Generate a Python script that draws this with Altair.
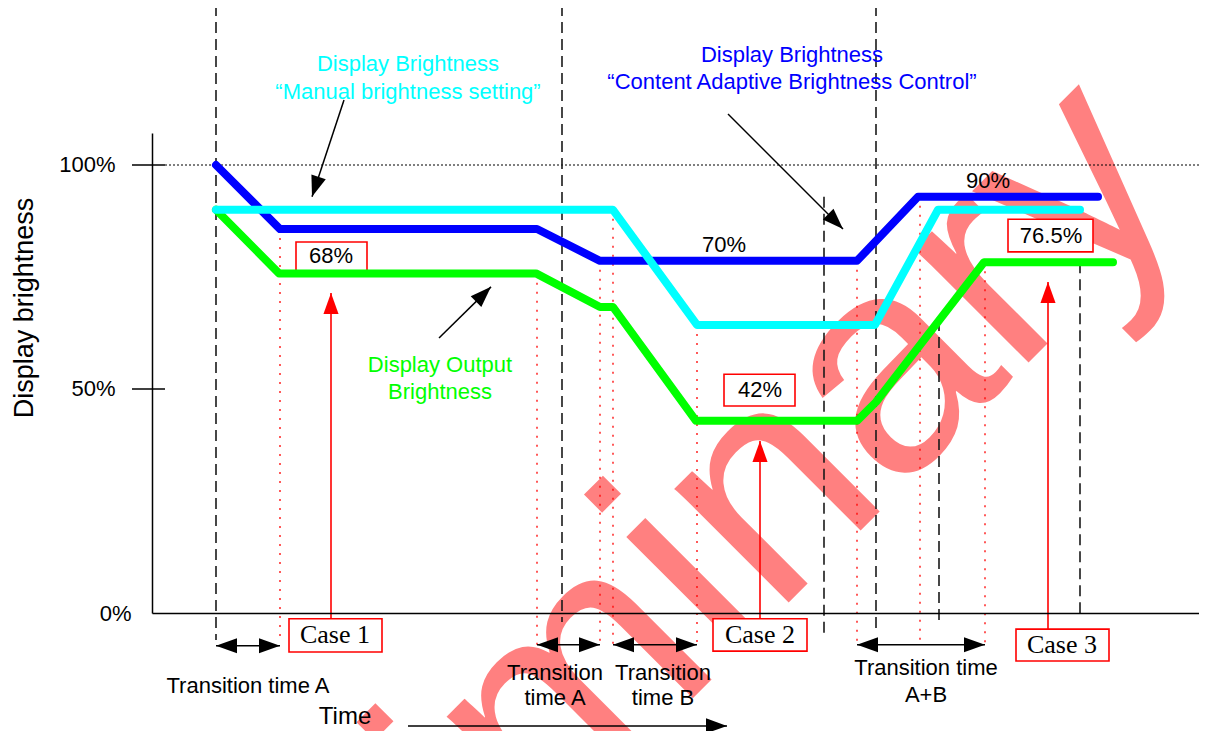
import math
import altair as alt
import pandas as pd

# ---------------- scale set-up (time units, percent) ----------------
X_MAX = 1047          # time axis extent (arbitrary time units)
Y_MAX = 107.14        # top of brightness axis (%)
W, H = 1047, 480
PX_T = W / X_MAX
PX_P = H / Y_MAX
SANS = "Liberation Sans"
SERIF = "Liberation Serif"

# ---------------- series ----------------
blue_t = [64, 128, 385, 448, 705, 766, 946]
blue_v = [100, 85.7, 85.7, 78.6, 78.6, 92.9, 92.9]
cyan_t = [64, 461, 545, 723, 786, 928]
cyan_v = [90, 90, 64.3, 64.3, 90, 90]
green_t = [64, 127, 384, 448, 461, 544, 705, 724, 832, 961]
green_v = [90, 75.8, 75.8, 68.3, 68.3, 42.9, 42.9, 47.1, 78.3, 78.3]

# ---------------- guide lines ----------------
dash_t = [64, 410, 724, 672, 787, 928]
dash_top = [135.7, 135.7, 135.7, 92.9, 65.4, 78.3]
dash_bot = [-6.0, -2.0, -4.5, -5.6, -2.5, 0.0]

red_t = [128, 385, 448, 461, 545, 705, 768, 833]
red_top = [85.7, 75.7, 78.6, 90.0, 64.3, 78.6, 92.9, 78.3]
red_bot = [-6.0, -7.1, -7.1, -7.1, -7.1, -7.1, -7.1, -7.1]

# transition-time double arrows
span_t1 = [64, 385, 461, 705]
span_t2 = [128, 448, 545, 833]
span_v = [-7.3, -7.1, -7.1, -7.1]

# ---------------- boxed value labels ----------------
box_t1 = [144, 572, 856]
box_t2 = [215, 643, 941]
box_v1 = [82.8, 53.3, 87.9]
box_v2 = [76.3, 46.2, 80.6]
box_text = ["68%", "42%", "76.5%"]
box_tt = [179, 608, 899]
box_tv = [79.7, 49.8, 84.2]

# case boxes + red arrows
case_t1 = [137, 561, 864]
case_t2 = [230, 655, 957]
case_v1 = [-1.3, -1.3, -3.6]
case_v2 = [-8.7, -8.5, -10.7]
case_text = ["Case 1", "Case 2", "Case 3"]
case_tt = [183, 608, 910]
case_tv = [-4.8, -4.9, -7.1]
case_arrow_t = [179, 608, 896]
case_arrow_tip = [71.4, 38.4, 73.9]

# black pointer arrows (start -> tip)
ptr_t0 = [192, 576, 287, 256]
ptr_v0 = [114.5, 111.4, 61.4, -25.2]
ptr_t1 = [160, 691, 339, 575]
ptr_v1 = [92.9, 85.7, 72.8, -25.2]

# free text labels
lab_text = ["Display Brightness", "\u201cManual brightness setting\u201d",
            "Display Brightness", "\u201cContent Adaptive Brightness Control\u201d",
            "Display Output", "Brightness", "70%", "90%",
            "Transition time A", "Transition", "time A", "Transition", "time B",
            "Transition time", "A+B", "Time"]
lab_t = [256, 256, 640, 640, 288, 288, 572, 836, 96, 403, 403, 511, 511, 774, 774, 193]
lab_v = [122.5, 116.3, 124.6, 118.5, 55.4, 49.3, 82.1, 96.4, -16.3, -13.3, -19.0,
         -13.3, -19.0, -12.3, -18.4, -23.3]
lab_c = ["#00ffff", "#00ffff", "#0000ff", "#0000ff", "#00ff00", "#00ff00",
         "black", "black", "black", "black", "black", "black", "black", "black", "black", "black"]
lab_fs = [22] * 15 + [24]

wm_t, wm_v = [502], [-27.7]

# ---------------- encodings ----------------
xs = alt.Scale(domain=[0, X_MAX], nice=False, zero=False)
ys = alt.Scale(domain=[0, Y_MAX], nice=False, zero=False)
x_axis = alt.Axis(title=None, labels=False, ticks=False, grid=False,
                  domainColor="black", domainWidth=1.5, zindex=1)
y_axis = alt.Axis(title="Display brightness", values=[0, 50, 100],
                  labelExpr="datum.value + '%'", ticks=False, grid=False,
                  domainColor="black", domainWidth=1.5, zindex=1,
                  labelFont=SANS, labelFontSize=22, labelColor="black",
                  labelPadding={"condition": {"test": "datum.value == 0", "value": 21}, "value": 37},
                  labelBaseline="middle", labelAlign="right",
                  titleFont=SANS, titleFontSize=27, titleFontWeight="normal",
                  titleColor="black", titleAngle=270, titleX=-120, titleY=174.5,
                  titleAlign="center", titleBaseline="alphabetic")
X = alt.X("t:Q", scale=xs, axis=x_axis)
Y = alt.Y("v:Q", scale=ys, axis=y_axis)
X2 = alt.X2("t2:Q")
Y2 = alt.Y2("v2:Q")


def ang(t0, v0, t1, v1):
    dx = (t1 - t0) * PX_T
    dy = -(v1 - v0) * PX_P
    return math.degrees(math.atan2(dx, -dy)) % 360


HEAD = "M0,0L-0.36,1L0.36,1Z"

# watermark
wm = alt.Chart(pd.DataFrame({"t": wm_t, "v": wm_v, "s": ["Preliminary"]})).mark_text(
    angle=315, font=SANS, fontSize=305, color="#ff8080", align="center", baseline="alphabetic"
).encode(X, Y, text="s:N")

# 100% dotted reference line
ref100 = alt.Chart(pd.DataFrame({"t": [13], "t2": [X_MAX], "v": [100]})).mark_rule(
    color="black", strokeWidth=1.2, strokeDash=[2, 2]).encode(X, X2, Y)

ticks = alt.Chart(pd.DataFrame({"t": [-20, -20], "t2": [13, 13], "v": [50, 100]})).mark_rule(
    color="black", strokeWidth=1.5).encode(X, X2, Y)

dashed = alt.Chart(pd.DataFrame({"t": dash_t, "v": dash_top, "v2": dash_bot})).mark_rule(
    color="#1a1a1a", strokeWidth=1.6, strokeDash=[11, 6]).encode(X, Y, Y2)

reddot = alt.Chart(pd.DataFrame({"t": red_t, "v": red_top, "v2": red_bot})).mark_rule(
    color="#ff0000", strokeWidth=1.3, strokeDash=[2, 7]).encode(X, Y, Y2)

boxes = alt.Chart(pd.DataFrame({"t": box_t1 + case_t1, "t2": box_t2 + case_t2,
                                "v": box_v1 + case_v1, "v2": box_v2 + case_v2})).mark_rect(
    fill="white", stroke="#ff0000", strokeWidth=1.6).encode(X, X2, Y, Y2)


def series(ts, vs, col):
    return alt.Chart(pd.DataFrame({"t": ts, "v": vs})).mark_line(
        color=col, strokeWidth=8, strokeCap="round", strokeJoin="round").encode(X, Y)


green = series(green_t, green_v, "#00ff00")
blue = series(blue_t, blue_v, "#0000ff")
cyan = series(cyan_t, cyan_v, "#00ffff")

red_shafts = alt.Chart(pd.DataFrame({"t": case_arrow_t, "v": case_arrow_tip, "v2": case_v1})).mark_rule(
    color="#ff0000", strokeWidth=1.6).encode(X, Y, Y2)

ptr_shafts = alt.Chart(pd.DataFrame({"t": ptr_t0, "v": ptr_v0, "t2": ptr_t1, "v2": ptr_v1})).mark_rule(
    color="black", strokeWidth=1.5).encode(X, Y, X2, Y2)

span_rules = alt.Chart(pd.DataFrame({"t": span_t1, "t2": span_t2, "v": span_v})).mark_rule(
    color="black", strokeWidth=1.5).encode(X, X2, Y)

# arrow heads
h_t, h_v, h_a, h_c = [], [], [], []
for t, tip, base in zip(case_arrow_t, case_arrow_tip, case_v1):
    h_t.append(t); h_v.append(tip); h_a.append(ang(t, base, t, tip)); h_c.append("#ff0000")
for a, b, c, d in zip(ptr_t0, ptr_v0, ptr_t1, ptr_v1):
    h_t.append(c); h_v.append(d); h_a.append(ang(a, b, c, d)); h_c.append("black")
for a, b, v in zip(span_t1, span_t2, span_v):
    h_t += [a, b]; h_v += [v, v]; h_a += [ang(b, v, a, v), ang(a, v, b, v)]; h_c += ["black", "black"]

heads = alt.Chart(pd.DataFrame({"t": h_t, "v": h_v, "ang": h_a, "c": h_c})).mark_point(
    shape=HEAD, filled=True, size=4 * 21 * 21, opacity=1, strokeWidth=0).encode(
    X, Y, angle=alt.Angle("ang:Q", scale=None), color=alt.Color("c:N", scale=None))

labels = alt.Chart(pd.DataFrame({"t": lab_t + box_tt, "v": lab_v + box_tv,
                                 "s": lab_text + box_text,
                                 "c": lab_c + ["black"] * 3,
                                 "fs": lab_fs + [22] * 3})).mark_text(
    font=SANS, align="center", baseline="middle").encode(
    X, Y, text="s:N", color=alt.Color("c:N", scale=None), size=alt.Size("fs:Q", scale=None))

case_labels = alt.Chart(pd.DataFrame({"t": case_tt, "v": case_tv, "s": case_text})).mark_text(
    font=SERIF, fontSize=26, color="black", align="center", baseline="middle").encode(X, Y, text="s:N")

chart = alt.layer(
    wm, ref100, boxes, dashed, reddot, green, blue, cyan,
    red_shafts, ptr_shafts, span_rules, heads, ticks, labels, case_labels
).properties(
    width=W, height=H,
    padding={"left": 144, "top": 125, "right": 0, "bottom": 118},
    autosize=alt.AutoSizeParams(type="none"),
    background="white",
).configure_view(stroke=None)

chart.save("out.html", embed_options={"renderer": "svg", "actions": False})
